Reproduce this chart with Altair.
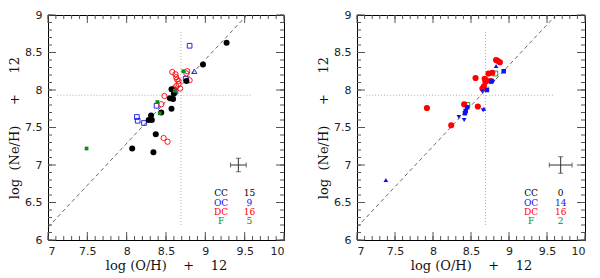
import altair as alt
import pandas as pd

# ---------------- data ----------------
# Left panel
L_CC_x = [9.27, 8.97, 8.76, 8.57, 8.60, 8.55, 8.59, 8.57, 8.44, 8.31, 8.28, 8.32, 8.37, 8.07, 8.34]
L_CC_y = [8.63, 8.34, 8.12, 8.01, 7.95, 7.89, 7.88, 7.75, 7.70, 7.66, 7.60, 7.60, 7.41, 7.22, 7.17]
L_OC_sq_x = [8.80, 8.75, 8.60, 8.38, 8.13, 8.14, 8.22, 8.62]
L_OC_sq_y = [8.59, 8.15, 8.00, 7.79, 7.64, 7.59, 7.56, 7.98]
L_OC_tri_x = [8.86]
L_OC_tri_y = [8.25]
L_DC_x = [8.58, 8.62, 8.63, 8.64, 8.66, 8.68, 8.48, 8.77, 8.76, 8.80, 8.44, 8.47, 8.52, 8.60, 8.63, 8.66]
L_DC_y = [8.24, 8.21, 8.17, 8.14, 8.08, 8.02, 7.92, 8.25, 8.22, 8.13, 7.81, 7.36, 7.31, 8.02, 8.05, 8.12]
L_F_x = [8.72, 8.39, 8.42, 7.49, 8.61]
L_F_y = [8.25, 7.84, 7.69, 7.22, 7.99]

# Right panel
R_DC_x = [8.85, 8.88, 8.83, 8.56, 8.73, 8.78, 8.68, 8.69, 8.67, 8.65, 8.76, 7.92, 8.41, 8.59, 8.24, 8.70]
R_DC_y = [8.39, 8.37, 8.40, 8.16, 8.22, 8.23, 8.15, 8.11, 8.05, 8.02, 8.12, 7.76, 7.81, 7.78, 7.53, 8.13]
R_OC_sq_x = [8.93, 8.71, 8.45, 8.43, 8.42, 8.77]
R_OC_sq_y = [8.25, 8.00, 7.77, 7.72, 7.69, 8.12]
R_OC_tri_x = [8.83, 8.67, 7.38]
R_OC_tri_y = [8.32, 7.75, 6.80]
R_OC_inv_x = [8.79, 8.65, 8.66, 8.34, 8.41]
R_OC_inv_y = [8.11, 7.98, 7.73, 7.64, 7.60]
R_F_x = [8.82, 8.45]
R_F_y = [8.22, 7.80]

# reference lines
DIAG_L_x = [7.0, 9.53]
DIAG_L_y = [6.17, 9.0]
DIAG_R_x = [7.0, 9.62]
DIAG_R_y = [6.17, 9.0]
SOLAR_O = 8.69
SOLAR_NE = 7.93
SOLAR_O_SPAN = [6.2, 8.8]
SOLAR_NE_SPAN = [7.12, 9.6]

# typical error bars (x, y, dx, dy)
ERR_L = [9.42, 7.0, 0.10, 0.09]
ERR_R = [9.68, 7.0, 0.15, 0.11]

# in-plot legend
LEG_LABELS = ["CC", "OC", "DC", "F"]
L_COUNTS = ["15", "9", "16", "5"]
R_COUNTS = ["0", "14", "16", "2"]
LEG_Y = [6.625, 6.50, 6.375, 6.25]
L_LEG_X = [9.2, 9.56]
R_LEG_X = [9.29, 9.68]

# axes
X_DOMAIN = [7, 10]
Y_DOMAIN = [6, 9]
MAJOR_X = [7, 7.5, 8, 8.5, 9, 9.5, 10]
MAJOR_Y = [6, 6.5, 7, 7.5, 8, 8.5, 9]
MINOR_X = [round(7 + 0.1 * i, 1) for i in range(31)]
MINOR_Y = [round(6 + 0.1 * i, 1) for i in range(31)]

NB = "\u00a0"
X_TITLE = "log" + NB + "(O/H)" + NB * 4 + "+" + NB * 4 + "12"
Y_TITLE = "log" + NB * 2 + "(Ne/H)" + NB * 5 + "+" + NB * 5 + "12"

# ---------------- styles ----------------
BLACK = "#000000"
BLUE = "#1010f0"
RED = "#ff0000"
GREEN = "#108a10"
LEG_COLORS = [BLACK, BLUE, RED, GREEN]

SERIF = "DejaVu Serif"
SANS = "DejaVu Sans"


def series_df(xs, ys, shape, color, filled, size):
    return pd.DataFrame({"x": xs, "y": ys, "shape": shape, "color": color,
                         "filled": filled, "size": size})


left_pts = pd.concat([
    series_df(L_OC_sq_x, L_OC_sq_y, "square", BLUE, False, 22),
    series_df(L_OC_tri_x, L_OC_tri_y, "triangle-up", BLUE, False, 26),
    series_df(L_DC_x, L_DC_y, "circle", RED, False, 28),
    series_df(L_CC_x, L_CC_y, "circle", BLACK, True, 36),
    series_df(L_F_x, L_F_y, "square", GREEN, True, 14),
], ignore_index=True)

right_pts = pd.concat([
    series_df(R_DC_x, R_DC_y, "circle", RED, True, 38),
    series_df(R_OC_sq_x, R_OC_sq_y, "square", BLUE, True, 20),
    series_df(R_OC_tri_x, R_OC_tri_y, "triangle-up", BLUE, True, 22),
    series_df(R_OC_inv_x, R_OC_inv_y, "triangle-down", BLUE, True, 22),
    series_df(R_F_x, R_F_y, "square", GREEN, False, 24),
], ignore_index=True)


def make_panel(pts, diag_x, diag_y, err, leg_x, counts, width, height):
    xsc = alt.Scale(domain=X_DOMAIN, nice=False, zero=False)
    ysc = alt.Scale(domain=Y_DOMAIN, nice=False, zero=False)
    xax = alt.Axis(values=MAJOR_X, title=X_TITLE, format="~g", labelPadding=5,
                   titlePadding=3)
    yax = alt.Axis(values=MAJOR_Y, title=Y_TITLE, format="~g", labelPadding=6,
                   titlePadding=3)

    def X(f):
        return alt.X(f, type="quantitative", scale=xsc, axis=xax)

    def Y(f):
        return alt.Y(f, type="quantitative", scale=ysc, axis=yax)

    layers = []
    # minor / major ticks (inward, all four sides)
    tx_minor = pd.DataFrame({"v": MINOR_X})
    tx_major = pd.DataFrame({"v": MAJOR_X})
    ty_minor = pd.DataFrame({"v": MINOR_Y})
    ty_major = pd.DataFrame({"v": MAJOR_Y})
    for dfx, ln in ((tx_minor, 4), (tx_major, 8)):
        layers.append(alt.Chart(dfx).mark_rule(color="#555", strokeWidth=1).encode(
            x=X("v"), y=alt.value(height), y2=alt.value(height - ln)))
        layers.append(alt.Chart(dfx).mark_rule(color="#555", strokeWidth=1).encode(
            x=X("v"), y=alt.value(0), y2=alt.value(ln)))
    for dfy, ln in ((ty_minor, 4), (ty_major, 8)):
        layers.append(alt.Chart(dfy).mark_rule(color="#555", strokeWidth=1).encode(
            y=Y("v"), x=alt.value(0), x2=alt.value(ln)))
        layers.append(alt.Chart(dfy).mark_rule(color="#555", strokeWidth=1).encode(
            y=Y("v"), x=alt.value(width), x2=alt.value(width - ln)))

    # solar reference dotted lines
    sv = pd.DataFrame({"x": [SOLAR_O], "y": [SOLAR_O_SPAN[0]], "y2": [SOLAR_O_SPAN[1]]})
    sh = pd.DataFrame({"y": [SOLAR_NE], "x": [SOLAR_NE_SPAN[0]], "x2": [SOLAR_NE_SPAN[1]]})
    layers.append(alt.Chart(sv).mark_rule(color="#b0b0b0", strokeDash=[1, 2], strokeWidth=1).encode(
        x=X("x"), y=Y("y"), y2="y2"))
    layers.append(alt.Chart(sh).mark_rule(color="#b0b0b0", strokeDash=[1, 2], strokeWidth=1).encode(
        y=Y("y"), x=X("x"), x2="x2"))

    # dashed diagonal
    dg = pd.DataFrame({"x": diag_x, "y": diag_y})
    layers.append(alt.Chart(dg).mark_line(color="#444", strokeDash=[4, 3], strokeWidth=0.8).encode(
        x=X("x"), y=Y("y")))

    # error bar cross
    xc, yc, dx, dy = err
    eh = pd.DataFrame({"x": [xc - dx], "x2": [xc + dx], "y": [yc]})
    ev = pd.DataFrame({"x": [xc], "y": [yc - dy], "y2": [yc + dy]})
    layers.append(alt.Chart(eh).mark_rule(color="#333", strokeWidth=1).encode(
        x=X("x"), x2="x2", y=Y("y")))
    layers.append(alt.Chart(ev).mark_rule(color="#333", strokeWidth=1).encode(
        x=X("x"), y=Y("y"), y2="y2"))
    capx = pd.DataFrame({"x": [xc - dx, xc + dx], "y": [yc, yc]})
    capy = pd.DataFrame({"x": [xc, xc], "y": [yc - dy, yc + dy]})
    layers.append(alt.Chart(capx).mark_tick(orient="vertical", size=5, thickness=1, color="#333").encode(
        x=X("x"), y=Y("y")))
    layers.append(alt.Chart(capy).mark_tick(orient="horizontal", size=5, thickness=1, color="#333").encode(
        x=X("x"), y=Y("y")))

    # points
    opn = pts[~pts["filled"]]
    fil = pts[pts["filled"]]
    enc = dict(x=X("x"), y=Y("y"),
               shape=alt.Shape("shape:N", scale=None),
               color=alt.Color("color:N", scale=None),
               size=alt.Size("size:Q", scale=None))
    layers.append(alt.Chart(opn).mark_point(filled=False, strokeWidth=0.9, opacity=1).encode(**enc))
    layers.append(alt.Chart(fil).mark_point(filled=True, opacity=1).encode(**enc))

    # in-plot legend text
    lg = pd.DataFrame({"lab": LEG_LABELS, "cnt": counts, "y": LEG_Y, "c": LEG_COLORS,
                       "x1": [leg_x[0]] * 4, "x2": [leg_x[1]] * 4})
    layers.append(alt.Chart(lg).mark_text(font=SERIF, fontSize=9, align="center", baseline="middle").encode(
        x=X("x1"), y=Y("y"), text="lab:N", color=alt.Color("c:N", scale=None)))
    layers.append(alt.Chart(lg).mark_text(font=SERIF, fontSize=9, align="center", baseline="middle").encode(
        x=X("x2"), y=Y("y"), text="cnt:N", color=alt.Color("c:N", scale=None)))

    return alt.layer(*layers).properties(width=width, height=height)


left = make_panel(left_pts, DIAG_L_x, DIAG_L_y, ERR_L, L_LEG_X, L_COUNTS, 236, 225)
right = make_panel(right_pts, DIAG_R_x, DIAG_R_y, ERR_R, R_LEG_X, R_COUNTS, 228, 225)

chart = alt.hconcat(left, right, spacing=73, bounds="flush").properties(
    padding={"left": 0, "right": 2, "top": 0, "bottom": 0}
).configure_view(
    stroke="black", strokeWidth=1
).configure_axis(
    domain=False, ticks=False, grid=False,
    labelFont=SANS, labelFontSize=11, labelColor="#222",
    titleFont=SERIF, titleFontSize=13, titleFontWeight="normal", titleColor="#111"
).configure_axisY(
    labelFontSize=11
)

chart.save("out.html", embed_options={"renderer": "svg", "actions": False})
